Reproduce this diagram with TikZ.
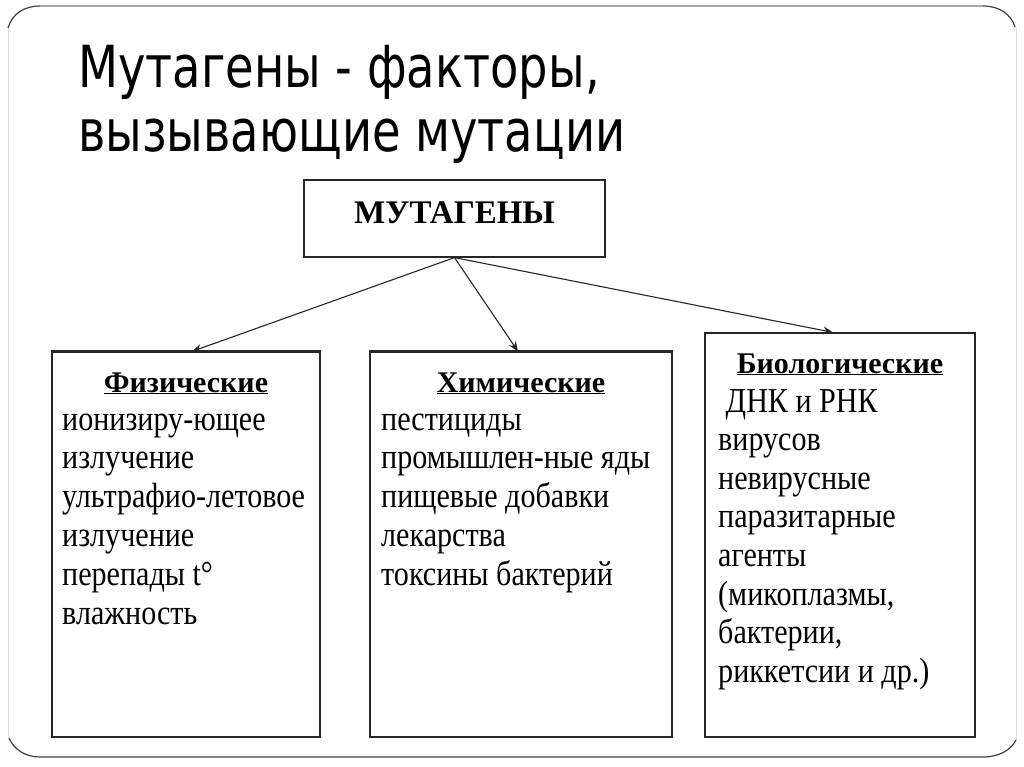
\documentclass[tikz,border=0pt]{standalone}
\usepackage{fontspec}
\setmainfont{Liberation Serif}
\newfontfamily\titlefont[FakeStretch=0.8]{DejaVu Sans}
\newfontfamily\bodyfont[FakeStretch=0.86]{Liberation Serif}
\usetikzlibrary{arrows.meta}

\tikzset{
  box/.style 2 args={draw=black!85, line width=1.2pt, minimum width=#1,
    minimum height=#2, inner sep=0pt},
  ttl/.style={font=\titlefont\fontsize{58}{64}\selectfont, anchor=base west, inner sep=0pt},
  head/.style={font=\bfseries\fontsize{30}{36}\selectfont, anchor=base, inner sep=0pt},
  body/.style={font=\bodyfont\fontsize{35}{40}\selectfont, anchor=base west, inner sep=0pt},
  arr/.style={->, line width=1.1pt, black!85}
}

\begin{document}
\begin{tikzpicture}[x=1pt, y=-1pt, >={Stealth[length=10pt, width=8pt]}]
    \useasboundingbox[fill=white] (0,0) rectangle (1024,767);

    % Rama del slide
    \draw[gray!25, line width=1pt] (8,28) -- (8,738) (1016,28) -- (1016,740);
    \draw[gray!70, line width=1.3pt] (40,6) -- (983,6);
    \draw[black!75, line width=1.2pt] (8,28) .. controls (12,14) and (24,6) .. (40,6);
    \draw[black!75, line width=1.2pt] (983,6) .. controls (999,6) and (1011,14) .. (1015,27);
    \draw[black!75, line width=1.2pt] (9,738) .. controls (14,750) and (26,757) .. (40,757)
        -- (983,757) .. controls (999,757) and (1011,750) .. (1016,740);

    % Titulo
    \node[ttl] (title1) at (78,88) {Мутагены - факторы,};
    \node[ttl] (title2) at (78,152) {вызывающие мутации};

    % Cajas
    \node[box={301}{77}] (mut) at (454.5,218.5) {};
    \node[font=\bfseries\fontsize{33}{38}\selectfont, anchor=base] (muttxt) at (454.5,223) {МУТАГЕНЫ};
    \node[box={268}{385}] (fizbox) at (186,544.5) {};
    \node[box={302}{385}] (himbox) at (521,544.5) {};
    \node[box={270}{404}] (biobox) at (840,535) {};
    \draw[line width=2.6pt, black!85] (fizbox.north west) -- (fizbox.north east);
    \draw[line width=2.6pt, black!85] (himbox.north west) -- (himbox.north east);

    % Flechas
    \draw[arr] (mut.south) -- ([xshift=6pt]fizbox.north);
    \draw[arr] (mut.south) -- ([xshift=-3pt]himbox.north);
    \draw[arr] (mut.south) -- ([xshift=-7pt]biobox.north);

    % Fisicos
    \node[head] (fizhead) at (186,392) {\underline{Физические}};
    \foreach \t [count=\i from 0] in {ионизиру-ющее, излучение, ультрафио-летовое,
        излучение, перепады t°, влажность}{
        \node[body] (fiz\i) at (62,430+38.8*\i) {\t};
    }

    % Quimicos
    \node[head] (himhead) at (521,392) {\underline{Химические}};
    \foreach \t [count=\i from 0] in {пестициды, промышлен-ные яды, пищевые добавки,
        лекарства, токсины бактерий}{
        \node[body] (him\i) at (381,430+38.8*\i) {\t};
    }

    % Biologicos
    \node[head] (biohead) at (840,373) {\underline{Биологические}};
    \foreach \t [count=\i from 0] in {\ ДНК и РНК, вирусов, невирусные, паразитарные,
        агенты, {(микоплазмы,}, {бактерии,}, риккетсии и др.)}{
        \node[body] (bio\i) at (718,412+38.6*\i) {\t};
    }

\end{tikzpicture}
\end{document}
